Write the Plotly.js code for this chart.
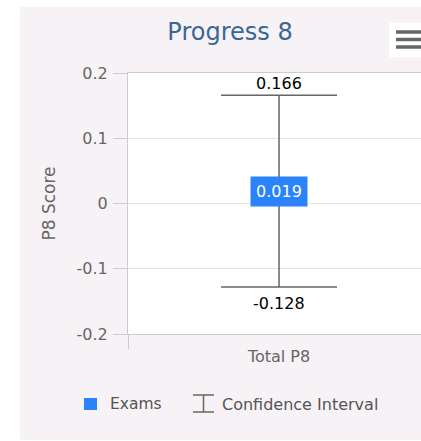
<!DOCTYPE html>
<html>
<head>
<meta charset="utf-8">
<script src="https://cdn.plot.ly/plotly-3.0.1.min.js"></script>
<style>
  html, body { margin: 0; padding: 0; background: #ffffff; width: 421px; height: 441px; overflow: hidden; }
  #chart { position: absolute; left: 20px; top: 7px; width: 401px; height: 433px; }
</style>
</head>
<body>
<div id="chart"></div>
<script>
// ---- data ----
const categories = ['Total P8'];
const examsValues = [0.019];
const ciUpper = [0.166];
const ciLower = [-0.128];
const yTickVals = [-0.2, -0.1, 0, 0.1, 0.2];
const yTickText = ['-0.2', '-0.1', '0', '0.1', '0.2'];
const chartTitle = 'Progress 8';
const yTitle = 'P8 Score';
const legendNames = ['Exams', 'Confidence Interval'];

// ---- style ----
const FONT = '"DejaVu Sans", Verdana, sans-serif';
const BLUE = '#2b83fb';
const GREY = '#666666';
const AXIS = '#cccccc';
const GRID = '#dde9dd';

const errPlus = examsValues.map((v, i) => +(ciUpper[i] - v).toFixed(6));
const errMinus = examsValues.map((v, i) => +(v - ciLower[i]).toFixed(6));

const traces = [
  {
    type: 'bar', name: legendNames[0], x: categories, y: examsValues,
    width: 0.15, marker: { color: BLUE }, hoverinfo: 'skip', showlegend: false
  },
  {
    type: 'scatter', mode: 'markers', name: legendNames[1], x: categories, y: examsValues,
    marker: { color: 'rgba(0,0,0,0)', size: 1 },
    error_y: { type: 'data', symmetric: false, array: errPlus, arrayminus: errMinus,
               color: GREY, thickness: 1.5, width: 58 },
    hoverinfo: 'skip', showlegend: false
  }
];

// pixel helpers (plot area: page x 128..421, page y 73..334)
const px = x => (x - 128) / 293;
const py = y => (334 - y) / 261;

const annotations = [];
categories.forEach((c, i) => {
  annotations.push({
    x: c, y: examsValues[i], xref: 'x', yref: 'y', text: String(examsValues[i].toFixed(3)),
    showarrow: false, bgcolor: BLUE, borderpad: 5,
    font: { family: FONT, size: 16, color: '#ffffff' }, xanchor: 'center', yanchor: 'middle'
  });
  annotations.push({
    x: c, y: ciUpper[i], xref: 'x', yref: 'y', text: String(ciUpper[i].toFixed(3)),
    showarrow: false, yanchor: 'bottom', yshift: 0,
    font: { family: FONT, size: 16, color: '#000000' }
  });
  annotations.push({
    x: c, y: ciLower[i], xref: 'x', yref: 'y', text: String(ciLower[i].toFixed(3)),
    showarrow: false, yanchor: 'top', yshift: -5,
    font: { family: FONT, size: 16, color: '#000000' }
  });
});
// custom legend text
annotations.push({
  x: px(108), y: py(404), xref: 'paper', yref: 'paper', text: legendNames[0],
  showarrow: false, xanchor: 'left', yanchor: 'middle',
  font: { family: FONT, size: 15.5, color: '#555555' }
});
annotations.push({
  x: px(220), y: py(404), xref: 'paper', yref: 'paper', text: legendNames[1],
  showarrow: false, xanchor: 'left', yanchor: 'middle',
  font: { family: FONT, size: 16, color: '#555555' }
});

const shapes = [
  // legend: blue square
  { type: 'rect', xref: 'paper', yref: 'paper', x0: px(84), x1: px(97), y0: py(398), y1: py(410),
    fillcolor: BLUE, line: { width: 0 } },
  // legend: I-beam
  { type: 'line', xref: 'paper', yref: 'paper', x0: px(203.5), x1: px(203.5), y0: py(395), y1: py(412),
    line: { color: GREY, width: 1.5 } },
  { type: 'line', xref: 'paper', yref: 'paper', x0: px(193), x1: px(214), y0: py(395), y1: py(395),
    line: { color: GREY, width: 1.5 } },
  { type: 'line', xref: 'paper', yref: 'paper', x0: px(193), x1: px(214), y0: py(412), y1: py(412),
    line: { color: GREY, width: 1.5 } },
  // menu button
  { type: 'rect', xref: 'paper', yref: 'paper', x0: px(389), x1: px(425), y0: py(23), y1: py(57),
    fillcolor: '#ffffff', line: { width: 0 } },
  { type: 'line', xref: 'paper', yref: 'paper', x0: px(396), x1: px(425), y0: py(32), y1: py(32),
    line: { color: GREY, width: 3.5 } },
  { type: 'line', xref: 'paper', yref: 'paper', x0: px(396), x1: px(425), y0: py(39.5), y1: py(39.5),
    line: { color: GREY, width: 3.5 } },
  { type: 'line', xref: 'paper', yref: 'paper', x0: px(396), x1: px(425), y0: py(47), y1: py(47),
    line: { color: GREY, width: 3.5 } }
];

const layout = {
  width: 401, height: 433,
  margin: { l: 108, r: 0, t: 66, b: 106, pad: 0 },
  paper_bgcolor: '#f6f2f5',
  plot_bgcolor: '#ffffff',
  showlegend: false,
  font: { family: FONT, size: 16, color: GREY },
  title: {
    text: chartTitle, xref: 'container', yref: 'container', x: 210 / 401, xanchor: 'center',
    y: 1 - 25 / 433, yanchor: 'middle',
    font: { family: FONT, size: 24, color: '#3a6896' }
  },
  xaxis: {
    type: 'category', range: [-0.5, 0.47], fixedrange: true,
    showline: true, linecolor: AXIS, linewidth: 1, mirror: true,
    ticks: 'outside', ticklen: 14, tickcolor: AXIS, tickwidth: 1, tickson: 'boundaries',
    ticklabelstandoff: 8,
    showgrid: false, tickfont: { family: FONT, size: 16, color: GREY }
  },
  yaxis: {
    range: [-0.2, 0.2], fixedrange: true,
    tickvals: yTickVals, ticktext: yTickText,
    showline: true, linecolor: AXIS, linewidth: 1,
    ticks: 'outside', ticklen: 14, tickcolor: AXIS, tickwidth: 1,
    ticklabelstandoff: 2,
    gridcolor: GRID, zeroline: true, zerolinecolor: GRID, zerolinewidth: 1,
    tickfont: { family: FONT, size: 16, color: GREY },
    title: { text: yTitle, standoff: 16, font: { family: FONT, size: 17, color: GREY } }
  },
  bargap: 0,
  annotations: annotations,
  shapes: shapes
};

Plotly.newPlot('chart', traces, layout, { displayModeBar: false, staticPlot: true });
</script>
</body>
</html>
